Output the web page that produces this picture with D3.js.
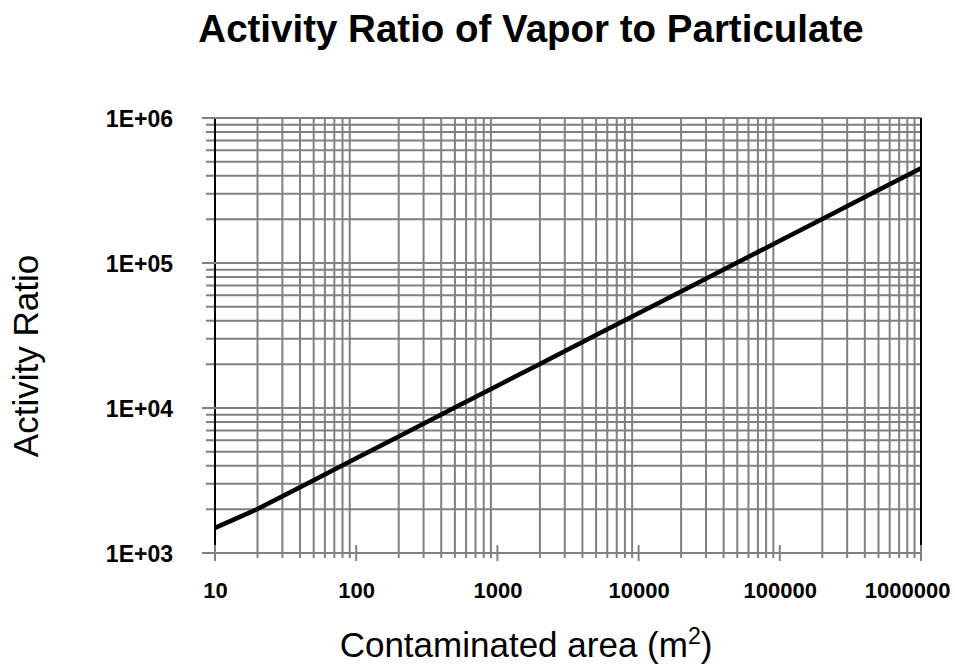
<!DOCTYPE html>
<html lang="en">
<head>
<meta charset="utf-8">
<title>Activity Ratio of Vapor to Particulate</title>
<script src="https://d3js.org/d3.v7.min.js"></script>
<style>
  body { margin: 0; background: #fff; }
  text { font-family: Arial, "Liberation Sans", sans-serif; fill: #000; }
</style>
</head>
<body>
<script>
// data
const areas  = [10, 20, 50, 100, 200, 500, 1000, 2000, 5000, 10000, 20000, 50000, 100000, 200000, 500000, 1000000];
const ratios = [1490, 2010, 3180, 4500, 6360, 10060, 14230, 20120, 31820, 45000, 63640, 100600, 142300, 201200, 318200, 450000];

const xTicks = [10, 100, 1000, 10000, 100000, 1000000];
const xTickLabels = ["10", "100", "1000", "10000", "100000", "1000000"];
const yTicks = [1e3, 1e4, 1e5, 1e6];
const yTickLabels = ["1E+03", "1E+04", "1E+05", "1E+06"];

const w = 955, h = 666;
const pLeft = 215, pRight = 921, pTop = 118, pBottom = 553;
const grid = "#808080";

const svg = d3.select("body").append("svg")
  .attr("width", w).attr("height", h);

const x = d3.scaleLog().domain([10, 1e6]).range([pLeft, pRight]);
const y = d3.scaleLog().domain([1e3, 1e6]).range([pBottom, pTop]);

// minor values (2..9 in each decade)
const xMinor = x.ticks().filter(d => xTicks.indexOf(d) < 0);
const yAll = y.ticks();

//vertical gridlines, minor only
svg.append("g").selectAll("line")
  .data(xMinor).enter().append("line")
  .attr("x1", d => x(d)).attr("x2", d => x(d))
  .attr("y1", pTop).attr("y2", pBottom + 5)
  .attr("stroke", grid).attr("stroke-width", 2);

//horizontal gridlines
svg.append("g").selectAll("line")
  .data(yAll).enter().append("line")
  .attr("x1", d => yTicks.indexOf(d) >= 0 ? pLeft - 13 : pLeft - 9)
  .attr("x2", pRight)
  .attr("y1", d => y(d)).attr("y2", d => y(d))
  .attr("stroke", grid).attr("stroke-width", 2);

// side lines
svg.append("g").selectAll("line")
  .data([pLeft, pRight]).enter().append("line")
  .attr("x1", d => d).attr("x2", d => d)
  .attr("y1", pTop).attr("y2", pBottom - 8)
  .attr("stroke", "#000").attr("stroke-width", 2);

//x axis line + major ticks
svg.append("line")
  .attr("x1", pLeft - 13).attr("x2", pRight)
  .attr("y1", pBottom).attr("y2", pBottom)
  .attr("stroke", grid).attr("stroke-width", 2);

svg.append("g").selectAll("line")
  .data(xTicks).enter().append("line")
  .attr("x1", d => x(d)).attr("x2", d => x(d))
  .attr("y1", pBottom - 8).attr("y2", pBottom + 8)
  .attr("stroke", grid).attr("stroke-width", 2);

svg.append("g").selectAll("line")
  .data(yTicks).enter().append("line")
  .attr("x1", pLeft - 13).attr("x2", pLeft + 13)
  .attr("y1", d => y(d)).attr("y2", d => y(d))
  .attr("stroke", grid).attr("stroke-width", 2);

// tick labels
const xAxis = d3.axisBottom(x).tickValues(xTicks)
  .tickSize(0).tickPadding(0)
  .tickFormat((d, i) => xTickLabels[i]);
const gx = svg.append("g")
  .attr("transform", "translate(0," + pBottom + ")")
  .call(xAxis);
gx.select(".domain").remove();
gx.selectAll("text")
  .attr("y", 45).attr("dy", null)
  .style("font-family", "Arial, 'Liberation Sans', sans-serif")
  .style("font-size", "22px").style("font-weight", "bold").attr("fill", "#000");
// last label is pushed in to stay inside the picture
gx.selectAll("text").filter((d, i) => i === xTicks.length - 1)
  .attr("text-anchor", "end").attr("x", w - 5 - pRight);

const yAxis = d3.axisLeft(y).tickValues(yTicks)
  .tickSize(0).tickPadding(0)
  .tickFormat((d, i) => yTickLabels[i]);
const gy = svg.append("g")
  .attr("transform", "translate(" + pLeft + ",0)")
  .call(yAxis);
gy.select(".domain").remove();
gy.selectAll("text")
  .attr("x", -42).attr("dy", "0.36em")
  .style("font-family", "Arial, 'Liberation Sans', sans-serif")
  .style("font-size", "23px").style("font-weight", "bold").attr("fill", "#000");

// the series
const line = d3.line()
  .x((d, i) => x(areas[i]))
  .y(d => y(d));
svg.append("path")
  .datum(ratios)
  .attr("d", line)
  .attr("fill", "none")
  .attr("stroke", "#000")
  .attr("stroke-width", 4.5)
  .attr("stroke-linejoin", "round");

// titles
svg.append("text")
  .attr("x", 531).attr("y", 42)
  .attr("text-anchor", "middle")
  .style("font-size", "38.5px").style("font-weight", "bold")
  .text("Activity Ratio of Vapor to Particulate");

svg.append("text")
  .attr("transform", "translate(38,356) rotate(-90)")
  .attr("text-anchor", "middle")
  .style("font-size", "35px")
  .text("Activity Ratio");

const xt = svg.append("text")
  .attr("x", 526).attr("y", 657)
  .attr("text-anchor", "middle")
  .style("font-size", "35px");
xt.append("tspan").text("Contaminated area (m");
xt.append("tspan").attr("dy", -13).style("font-size", "23px").text("2");
xt.append("tspan").attr("dy", 13).text(")");
</script>
</body>
</html>
